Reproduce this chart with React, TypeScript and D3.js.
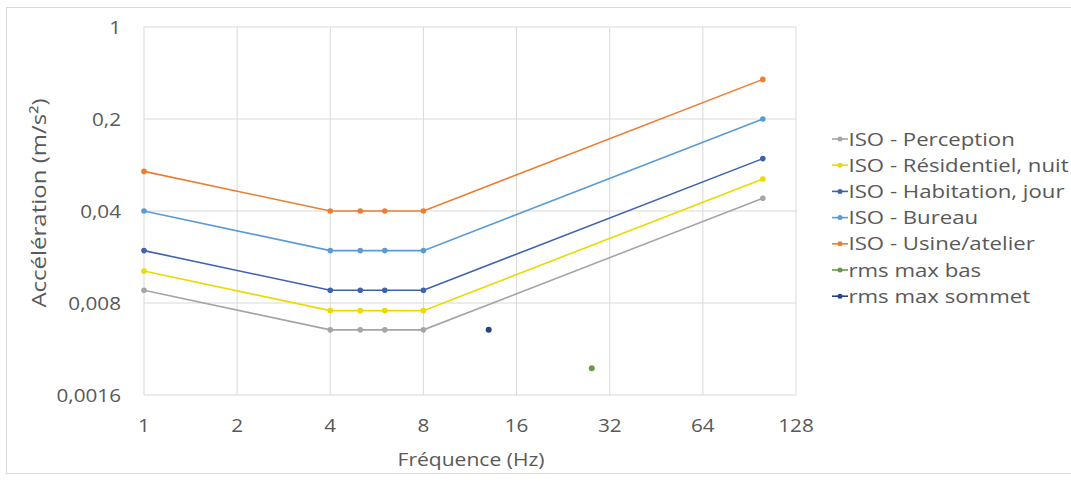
import React, { useRef, useEffect } from 'react';
import * as d3 from 'd3';

const freqs = [1, 4, 5, 6, 8, 100];
const perception = [0.01, 0.005, 0.005, 0.005, 0.005, 0.05];
const residentiel = [0.014, 0.007, 0.007, 0.007, 0.007, 0.07];
const habitation = [0.02, 0.01, 0.01, 0.01, 0.01, 0.1];
const bureau = [0.04, 0.02, 0.02, 0.02, 0.02, 0.2];
const usine = [0.08, 0.04, 0.04, 0.04, 0.04, 0.4];
const rmsBasX = [28];
const rmsBasY = [0.00256];
const rmsSommetX = [13];
const rmsSommetY = [0.005];

const xTicks = [1, 2, 4, 8, 16, 32, 64, 128];
const yTicks = [0.0016, 0.008, 0.04, 0.2, 1];

const seriesNames = [
  'ISO - Perception',
  'ISO - Résidentiel, nuit',
  'ISO - Habitation, jour',
  'ISO - Bureau',
  'ISO - Usine/atelier',
  'rms max bas',
  'rms max sommet',
];
const seriesColors = ['#a5a5a5', '#ecd900', '#3f62b0', '#5b9bd5', '#ed7d31', '#6a9a48', '#264478'];

const FONT = "'Open Sans', 'Liberation Sans', sans-serif";
const TEXT = '#595959';
const fmt = (v: number) => String(v).replace('.', ',');

const App = () => {
  const ref = useRef<SVGSVGElement>(null);

  useEffect(() => {
    const svg = d3.select(ref.current);
    svg.selectAll('*').remove();

    const left = 144, right = 796, top = 27, bottom = 395;

    const x = d3.scaleLog().base(2).domain([1, 128]).range([left, right]);
    const y = d3.scaleLog().base(5).domain([0.0016, 1]).range([bottom, top]);

    // chart frame
    svg.append('rect')
      .attr('x', 6.5).attr('y', 7.5).attr('width', 1070).attr('height', 466)
      .attr('fill', '#fff').attr('stroke', '#d9d9d9');

    // grid
    svg.append('g').selectAll('line').data(xTicks).enter().append('line')
      .attr('x1', d => x(d)).attr('x2', d => x(d))
      .attr('y1', top).attr('y2', bottom)
      .attr('stroke', '#d9d9d9').attr('stroke-width', 1);
    svg.append('g').selectAll('line').data(yTicks).enter().append('line')
      .attr('x1', left).attr('x2', right)
      .attr('y1', d => y(d)).attr('y2', d => y(d))
      .attr('stroke', '#d9d9d9').attr('stroke-width', 1);

    // tick labels (text is a bit stretched horizontally in the original)
    svg.append('g').selectAll('text').data(xTicks).enter().append('text')
      .attr('transform', d => `translate(${x(d)},${bottom + 37}) scale(1.15,1)`)
      .attr('text-anchor', 'middle')
      .attr('font-family', FONT).attr('font-size', 18).attr('fill', TEXT)
      .text(d => String(d));
    svg.append('g').selectAll('text').data(yTicks).enter().append('text')
      .attr('transform', d => `translate(${left - 23},${y(d) + 6.5}) scale(1.15,1)`)
      .attr('text-anchor', 'end')
      .attr('font-family', FONT).attr('font-size', 18).attr('fill', TEXT)
      .text(d => fmt(d));

    // axis titles
    svg.append('text')
      .attr('transform', 'translate(471,466) scale(1.17,1)')
      .attr('text-anchor', 'middle')
      .attr('font-family', FONT).attr('font-size', 18).attr('fill', TEXT)
      .text('Fréquence (Hz)');
    svg.append('text')
      .attr('transform', `translate(46,${(top + bottom) / 2 - 8}) rotate(-90) scale(1.2,1)`)
      .attr('text-anchor', 'middle')
      .attr('font-family', FONT).attr('font-size', 20).attr('fill', TEXT)
      .text('Accélération (m/s²)');

    const lineSeries = [perception, residentiel, habitation, bureau, usine];
    const line = d3.line<number>()
      .x((_, i) => x(freqs[i]))
      .y(d => y(d));

    lineSeries.forEach((vals, k) => {
      const g = svg.append('g');
      g.append('path')
        .attr('d', line(vals))
        .attr('fill', 'none')
        .attr('stroke', seriesColors[k])
        .attr('stroke-width', 1.6);
      g.selectAll('circle').data(vals).enter().append('circle')
        .attr('cx', (_, i) => x(freqs[i]))
        .attr('cy', d => y(d))
        .attr('r', 2.8)
        .attr('fill', seriesColors[k]);
    });

    const points = [
      { xs: rmsBasX, ys: rmsBasY, color: seriesColors[5] },
      { xs: rmsSommetX, ys: rmsSommetY, color: seriesColors[6] },
    ];
    points.forEach(p => {
      svg.append('g').selectAll('circle').data(p.ys).enter().append('circle')
        .attr('cx', (_, i) => x(p.xs[i]))
        .attr('cy', d => y(d))
        .attr('r', 3)
        .attr('fill', p.color);
    });

    // legend
    const legend = svg.append('g').attr('transform', 'translate(832,139)');
    seriesNames.forEach((name, i) => {
      const row = legend.append('g').attr('transform', `translate(0,${i * 26.2})`);
      row.append('line')
        .attr('x1', 0).attr('x2', 16).attr('y1', 0).attr('y2', 0)
        .attr('stroke', seriesColors[i]).attr('stroke-width', 1.6);
      row.append('circle').attr('cx', 8).attr('cy', 0).attr('r', 2.5)
        .attr('fill', seriesColors[i]);
      row.append('text')
        .attr('transform', 'translate(16.5,6.5) scale(1.2,1)')
        .attr('font-family', FONT).attr('font-size', 18.5).attr('fill', TEXT)
        .text(name);
    });
  }, []);

  return (
    <svg ref={ref} width={1071} height={481}
      style={{ position: 'absolute', left: 0, top: 0, display: 'block' }} />
  );
};

export default App;
